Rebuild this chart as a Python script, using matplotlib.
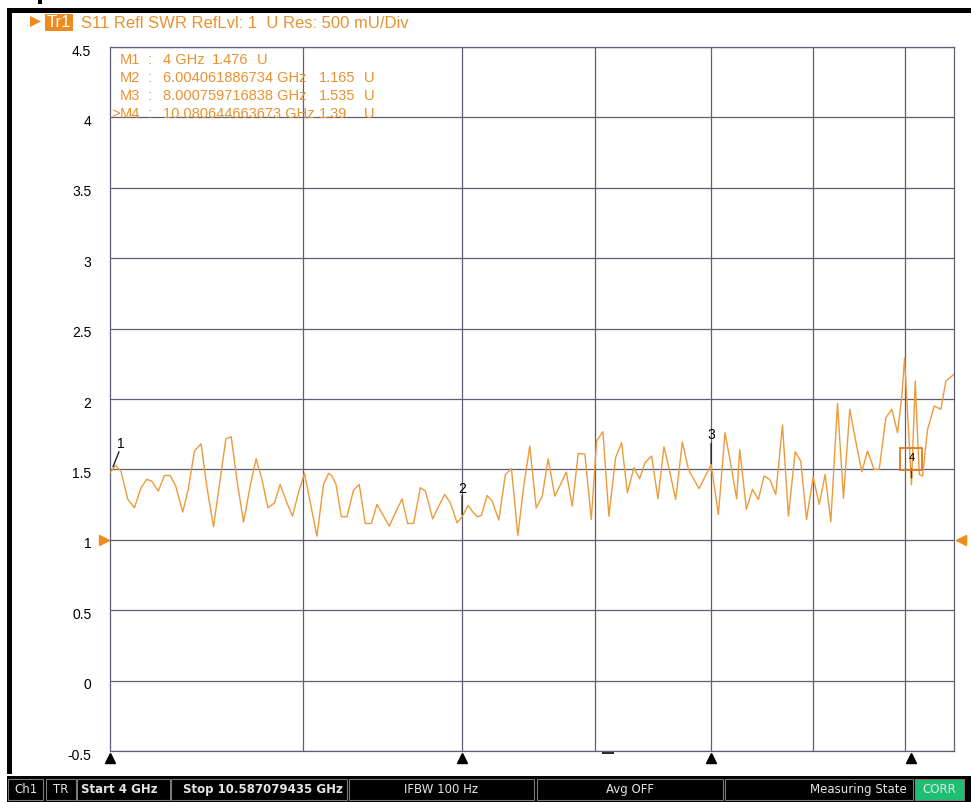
import matplotlib
matplotlib.use("Agg")
import matplotlib.pyplot as plt
from matplotlib.patches import Rectangle, Polygon
from matplotlib.ticker import NullLocator
from matplotlib.transforms import blended_transform_factory, offset_copy, ScaledTranslation

W, H = 971, 802

# S11 SWR trace (frequency in GHz, SWR in U)
freq_ghz = [
    4.000, 4.026, 4.051, 4.083, 4.114, 4.146, 4.173, 4.197, 4.229, 4.259,
    4.287, 4.315, 4.350, 4.378, 4.409, 4.443, 4.472, 4.507, 4.542, 4.572,
    4.600, 4.630, 4.666, 4.702, 4.734, 4.766, 4.799, 4.836, 4.867, 4.901,
    4.937, 4.971, 5.006, 5.043, 5.078,
    5.117, 5.147, 5.167, 5.191, 5.223, 5.257, 5.297, 5.332, 5.369, 5.407,
    5.442, 5.484, 5.520, 5.559, 5.602, 5.638, 5.677, 5.721, 5.755, 5.803,
    5.844, 5.884, 5.923, 5.969, 6.004061886734, 6.045, 6.073, 6.109, 6.139, 6.179,
    6.215, 6.263, 6.311, 6.355, 6.402, 6.446, 6.491,
    6.539, 6.585, 6.630, 6.681, 6.725, 6.770, 6.817, 6.864, 6.917, 6.968,
    7.011, 7.062, 7.111, 7.166, 7.216, 7.264, 7.319, 7.367, 7.413, 7.470,
    7.525, 7.577, 7.627, 7.680, 7.740, 7.794, 7.890, 8.000759716838, 8.068, 8.130,
    8.190, 8.240,
    8.269, 8.333, 8.391, 8.449, 8.505, 8.560, 8.620, 8.687, 8.747, 8.815,
    8.872, 8.931, 9.000, 9.063, 9.125, 9.185, 9.256, 9.320, 9.388, 9.453,
    9.519, 9.582, 9.656, 9.712, 9.787, 9.855, 9.920, 9.969, 10.000, 10.080644663673,
    10.124, 10.171, 10.210, 10.269, 10.349, 10.428, 10.488, 10.587079435,
]
swr = [
    1.476, 1.528, 1.488, 1.287, 1.227, 1.370, 1.429, 1.417, 1.346, 1.457,
    1.457, 1.382, 1.197, 1.358, 1.630, 1.682, 1.382, 1.092, 1.429, 1.718,
    1.732, 1.429, 1.126, 1.382, 1.576, 1.429, 1.227, 1.263, 1.393, 1.275,
    1.168, 1.334, 1.472, 1.240, 1.026,
    1.393, 1.472, 1.453, 1.393, 1.164, 1.164, 1.353, 1.393, 1.116, 1.116,
    1.251, 1.168, 1.097, 1.192, 1.291, 1.116, 1.116, 1.370, 1.346, 1.149,
    1.239, 1.322, 1.263, 1.121, 1.165, 1.244, 1.204, 1.164, 1.173, 1.315,
    1.275, 1.140, 1.464, 1.505, 1.031, 1.382, 1.666,
    1.227, 1.310, 1.576, 1.310, 1.393, 1.481, 1.239, 1.614, 1.607, 1.145,
    1.701, 1.768, 1.168, 1.583, 1.690, 1.334, 1.512, 1.434, 1.547, 1.595,
    1.291, 1.661, 1.488, 1.287, 1.694, 1.500, 1.363, 1.535, 1.180, 1.761,
    1.512, 1.291,
    1.642, 1.216, 1.358, 1.287, 1.453, 1.429, 1.322, 1.815, 1.168, 1.626,
    1.559, 1.145, 1.445, 1.251, 1.464, 1.128, 1.967, 1.294, 1.927, 1.701,
    1.483, 1.630, 1.500, 1.500, 1.867, 1.927, 1.761, 2.021, 2.289, 1.390,
    2.128, 1.464, 1.453, 1.784, 1.950, 1.927, 2.128, 2.175,
]

# markers
marker_names = ["M1", "M2", "M3", "M4"]
marker_freq = [4.0, 6.004061886734, 8.000759716838, 10.080644663673]
marker_freq_text = ["4", "6.004061886734", "8.000759716838", "10.080644663673"]
marker_swr = [1.476, 1.165, 1.535, 1.39]
active_marker = 3

start_ghz = 4
stop_ghz = 10.587079435
ref_level = 1
grid_freq = [5, 6, 7, 8, 9, 10]
y_ticks = [-0.5, 0, 0.5, 1, 1.5, 2, 2.5, 3, 3.5, 4, 4.5]
y_tick_labels = ["-0.5", "0", "0.5", "1", "1.5", "2", "2.5", "3", "3.5", "4", "4.5"]

status_fields = ["Ch1", "TR", "Start 4 GHz", "Stop 10.587079435 GHz",
                 "IFBW 100 Hz", "Avg OFF", "Measuring State", "CORR"]

ORANGE = "#e8922f"
TRACE = "#ec9a3a"
GRID = "#5e5f72"
FONT = "Liberation Sans"

fig = plt.figure(figsize=(W / 100, H / 100), dpi=100)
fig.patch.set_facecolor("white")


def fx(x):
    return x / W


def fy(y):
    return 1 - y / H


def rect(x0, y0, x1, y1, **kw):
    fig.patches.append(Rectangle((fx(x0), fy(y1)), (x1 - x0) / W, (y1 - y0) / H,
                                 transform=fig.transFigure, **kw))


def text(x, y, s, **kw):
    fig.text(fx(x), fy(y), s, **kw)


# frame bars
rect(7, 8, W, 13, fc="black", ec="none")
rect(7, 8, 12, 774, fc="black", ec="none")
rect(38, 0, 42, 4, fc="black", ec="none")

# trace header
fig.patches.append(Polygon([(fx(30), fy(16)), (fx(30), fy(27)), (fx(41), fy(21.5))],
                           closed=True, fc="#f08a1c", ec="none", transform=fig.transFigure))
rect(45, 14, 73, 31, fc="#f08a1c", ec="none")
text(59, 22.5, "Tr1", color="white", fontsize=12, family=FONT, ha="center", va="center")
text(81, 23, "S11 Refl SWR RefLvl: 1  U Res: 500 mU/Div", color=ORANGE,
     fontsize=12, family=FONT, va="center")

# plot area
ax = fig.add_axes([fx(110), fy(751), (954 - 110) / W, (751 - 47) / H])
ax.set_xscale("log")
ax.set_xlim(start_ghz, stop_ghz)
ax.set_ylim(y_ticks[0], y_ticks[-1])
ax.set_xticks(grid_freq)
ax.xaxis.set_minor_locator(NullLocator())
ax.set_xticklabels([])
ax.set_yticks(y_ticks)
ax.set_yticklabels(y_tick_labels, fontsize=10, family=FONT)
ax.tick_params(length=0)
ax.tick_params(axis="y", pad=13.5)
for lab in ax.get_yticklabels():
    lab.set_transform(lab.get_transform() + ScaledTranslation(0, -3 / 100, fig.dpi_scale_trans))
ax.grid(True, color=GRID, lw=0.9)
ax.set_axisbelow(True)
for sp in ax.spines.values():
    sp.set_color(GRID)
    sp.set_linewidth(0.9)

ax.plot(freq_ghz, swr, color=TRACE, lw=1.0, zorder=3)

# reference level arrows
ref_tr = blended_transform_factory(ax.transAxes, ax.transData)
ax.plot([-0.0071], [ref_level], marker=">", ms=7.5, color="#f08a1c", transform=ref_tr, clip_on=False)
ax.plot([1.0083], [ref_level], marker="<", ms=7.5, color="#f08a1c", transform=ref_tr, clip_on=False)

# marker position triangles under the grid
bot_tr = blended_transform_factory(ax.transData, ax.transAxes)
ax.plot(marker_freq, [-0.0095] * len(marker_freq), ls="none", marker="^", ms=7.5,
        color="black", transform=bot_tr, clip_on=False)
ax.plot([0.59], [-0.003], marker="_", ms=9, mew=1.2, color="black",
        transform=ax.transAxes, clip_on=False)

# marker labels on the trace
label_off = [(11, 29), (0, 28), (0, 29), (0, 27)]
stem = [((3, 6), (6, 15)), ((0, 2), (0, 19)), ((0, 1), (0, 20)), ((0, 7), (0, 9))]
for i, (f, v) in enumerate(zip(marker_freq, marker_swr)):
    (a, b), (c, d) = stem[i]
    ax.annotate("", xy=(f, v), xycoords=offset_copy(ax.transData, fig=fig, x=a, y=b, units="dots"),
                xytext=(c, d), textcoords="offset pixels",
                arrowprops=dict(arrowstyle="-", color="#222222" if i < 3 else "#7a2a10",
                                lw=1.0, shrinkA=0, shrinkB=0), zorder=4)
    ax.annotate(str(i + 1), xy=(f, v), xytext=label_off[i], textcoords="offset pixels",
                ha="center", va="center", fontsize=10 if i < 3 else 8, family=FONT,
                color="black", zorder=5)
# active marker box
ax.plot([marker_freq[active_marker]], [marker_swr[active_marker]], marker="s", ms=16,
        mfc="none", mec="#e07a18", mew=1.3,
        transform=offset_copy(ax.transData, fig=fig, x=0, y=26, units="dots"), zorder=5)

# marker readout
for i, name in enumerate(marker_names):
    y = 59.5 + i * 18.3
    kw = dict(color=ORANGE, fontsize=10.5, family=FONT, va="center")
    if i == active_marker:
        text(111.5, y, ">", **kw)
    text(120, y, name, **kw)
    text(148, y, ":", **kw)
    text(163, y, marker_freq_text[i] + " GHz", **kw)
    vx = 212 if i == 0 else 319
    text(vx, y, f"{marker_swr[i]:g}", **kw)
    text(vx + 45, y, "U", **kw)

# status bar
rect(7, 776, W, H, fc="black", ec="none")
boxes = [(8, 43), (46, 76), (77, 170), (171, 347), (349, 534), (537, 723), (725, 913), (915, 964)]
for k, (x0, x1) in enumerate(boxes):
    fc = "#1fbf73" if status_fields[k] == "CORR" else "black"
    rect(x0, 779, x1, 800, fc=fc, ec="#7a7a7a", lw=0.8)
    bold = status_fields[k].startswith(("Start", "Stop"))
    kw = dict(color="#e4e4e4", fontsize=8.5, family="DejaVu Sans", va="center",
              weight="bold" if bold else "normal")
    if bold:
        text(x0 + (4 if k == 2 else 12), 789.5, status_fields[k], **kw)
    elif status_fields[k] == "Measuring State":
        text(x1 - 6, 789.5, status_fields[k], ha="right", **kw)
    else:
        text((x0 + x1) / 2, 789.5, status_fields[k], ha="center", **kw)

fig.savefig("out.png", dpi=100, facecolor="white")
